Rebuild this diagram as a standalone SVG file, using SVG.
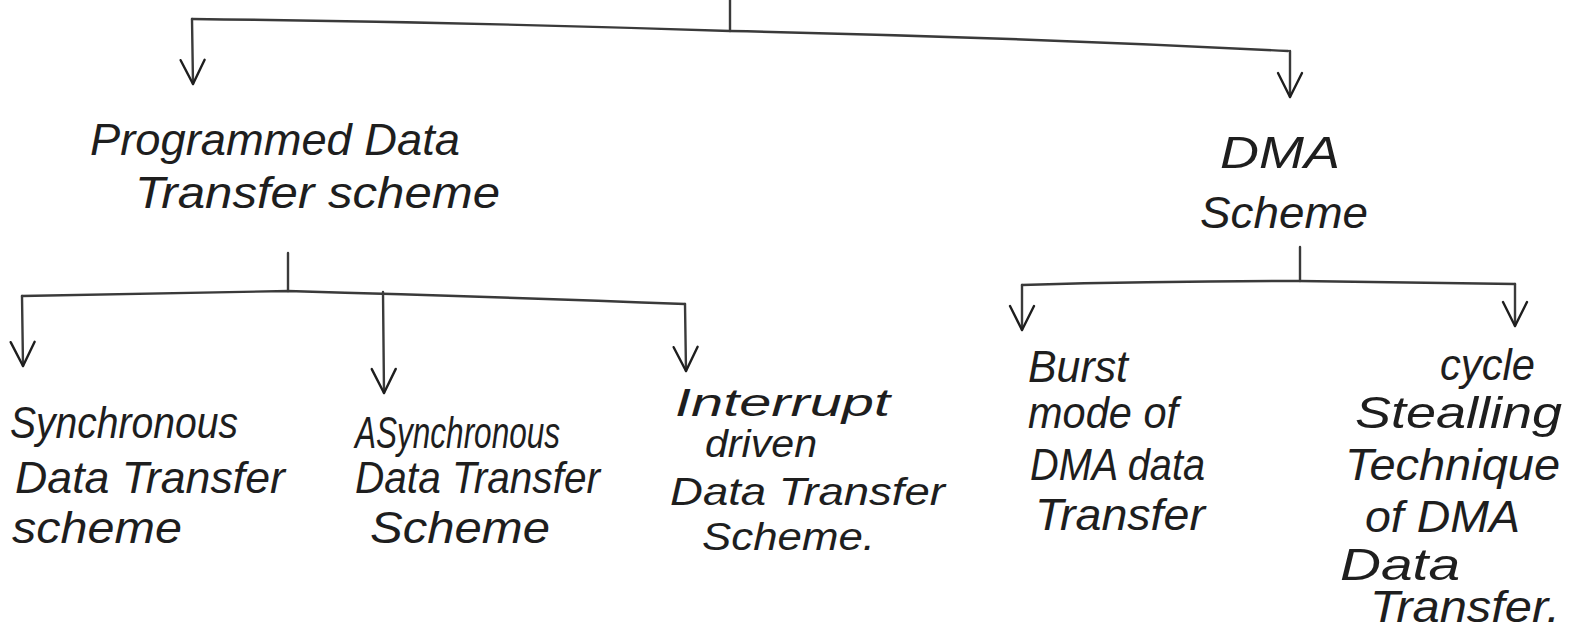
<svg xmlns="http://www.w3.org/2000/svg" width="1572" height="629" viewBox="0 0 1572 629">
<style>
.t{font-family:"Liberation Sans","DejaVu Sans",sans-serif;font-size:44px;fill:#1e1e1e;font-style:italic}
.s{font-size:38px}
.c{fill:none;stroke:#3a3a3a;stroke-width:2.4;stroke-linecap:round;stroke-linejoin:round}
</style>
<defs>
<marker id="ah" markerUnits="userSpaceOnUse" markerWidth="40" markerHeight="40" refX="26" refY="14" orient="auto">
<path d="M2,2 L26,14 L2,26" fill="none" stroke="#1e1e1e" stroke-width="2.4" stroke-linecap="round" stroke-linejoin="round"/>
</marker>
</defs>
<rect width="1572" height="629" fill="#ffffff"/>
<g id="connectors">
<path class="c" d="M730,0 L730,31"/>
<path class="c" d="M192,19 Q460,22 730,31 Q1010,37 1288,51"/>
<path class="c" d="M192,19 L193,84" marker-end="url(#ah)"/>
<path class="c" d="M1290,51 L1290,97" marker-end="url(#ah)"/>
<path class="c" d="M288,253 L288,291"/>
<path class="c" d="M22,296 L288,291 Q500,297 685,304"/>
<path class="c" d="M22,296 L23,366" marker-end="url(#ah)"/>
<path class="c" d="M383,292 L384,393" marker-end="url(#ah)"/>
<path class="c" d="M685,304 L686,371" marker-end="url(#ah)"/>
<path class="c" d="M1300,247 L1300,281"/>
<path class="c" d="M1022,285 Q1160,281 1300,281 L1515,284"/>
<path class="c" d="M1022,285 L1022,330" marker-end="url(#ah)"/>
<path class="c" d="M1515,284 L1515,326" marker-end="url(#ah)"/>
</g>
<g id="node-programmed">
<text class="t" x="90" y="155" textLength="370" lengthAdjust="spacingAndGlyphs">Programmed Data</text>
<text class="t" x="135" y="208" textLength="365" lengthAdjust="spacingAndGlyphs">Transfer scheme</text>
</g>
<g id="node-dma">
<text class="t" x="1220" y="168" textLength="120" lengthAdjust="spacingAndGlyphs">DMA</text>
<text class="t" x="1200" y="228" textLength="168" lengthAdjust="spacingAndGlyphs">Scheme</text>
</g>
<g id="node-sync">
<text class="t" x="10" y="438" textLength="228" lengthAdjust="spacingAndGlyphs">Synchronous</text>
<text class="t" x="15" y="493" textLength="270" lengthAdjust="spacingAndGlyphs">Data Transfer</text>
<text class="t" x="12" y="543" textLength="170" lengthAdjust="spacingAndGlyphs">scheme</text>
</g>
<g id="node-async">
<text class="t" x="355" y="448" textLength="205" lengthAdjust="spacingAndGlyphs">ASynchronous</text>
<text class="t" x="355" y="493" textLength="245" lengthAdjust="spacingAndGlyphs">Data Transfer</text>
<text class="t" x="370" y="543" textLength="180" lengthAdjust="spacingAndGlyphs">Scheme</text>
</g>
<g id="node-interrupt">
<text class="t s" x="675" y="416" textLength="215" lengthAdjust="spacingAndGlyphs">Interrupt</text>
<text class="t s" x="705" y="457" textLength="112" lengthAdjust="spacingAndGlyphs">driven</text>
<text class="t s" x="670" y="505" textLength="275" lengthAdjust="spacingAndGlyphs">Data Transfer</text>
<text class="t s" x="702" y="550" textLength="173" lengthAdjust="spacingAndGlyphs">Scheme.</text>
</g>
<g id="node-burst">
<text class="t" x="1028" y="382" textLength="100" lengthAdjust="spacingAndGlyphs">Burst</text>
<text class="t" x="1028" y="428" textLength="150" lengthAdjust="spacingAndGlyphs">mode of</text>
<text class="t" x="1030" y="480" textLength="175" lengthAdjust="spacingAndGlyphs">DMA data</text>
<text class="t" x="1035" y="530" textLength="170" lengthAdjust="spacingAndGlyphs">Transfer</text>
</g>
<g id="node-cycle">
<text class="t" x="1440" y="380" textLength="95" lengthAdjust="spacingAndGlyphs">cycle</text>
<text class="t" x="1355" y="428" textLength="207" lengthAdjust="spacingAndGlyphs">Stealling</text>
<text class="t" x="1345" y="480" textLength="215" lengthAdjust="spacingAndGlyphs">Technique</text>
<text class="t" x="1365" y="532" textLength="155" lengthAdjust="spacingAndGlyphs">of DMA</text>
<text class="t" x="1340" y="580" textLength="120" lengthAdjust="spacingAndGlyphs">Data</text>
<text class="t" x="1370" y="622" textLength="190" lengthAdjust="spacingAndGlyphs">Transfer.</text>
</g>
</svg>
